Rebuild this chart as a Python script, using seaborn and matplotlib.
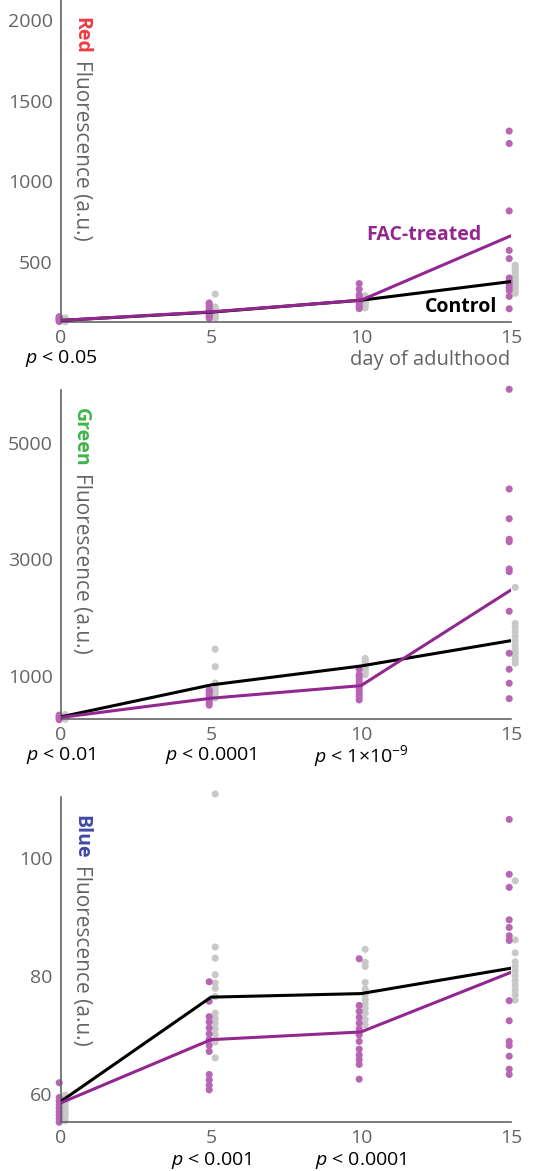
import numpy as np
import pandas as pd
import matplotlib
matplotlib.use("Agg")
import matplotlib.pyplot as plt
import matplotlib.transforms as mtrans
from matplotlib.ticker import FixedLocator
import seaborn as sns

# ---------------- data ----------------
days = [0, 5, 10, 15]

red_ctrl_pts = [[128, 132, 136, 140, 144, 148, 152],
                [150, 160, 170, 180, 190, 200, 210, 220, 300],
                [215, 230, 245, 255, 265, 275, 290],
                [305, 320, 335, 350, 365, 380, 395, 410, 425, 440, 455, 470, 480]]
red_fac_pts = [[130, 135, 140, 145, 150, 155, 160],
               [150, 160, 170, 180, 195, 205, 220, 235, 245],
               [210, 225, 240, 255, 265, 280, 295, 330, 365],
               [209, 286, 323, 340, 360, 380, 400, 520, 571, 816, 1234, 1311]]
red_ctrl_mean = [137, 188, 262, 378]
red_fac_mean = [137, 190, 262, 662]

green_ctrl_pts = [[260, 280, 300, 320, 340],
                  [620, 680, 730, 780, 830, 880, 1160, 1460],
                  [1020, 1060, 1100, 1140, 1180, 1220, 1260, 1300],
                  [1220, 1280, 1340, 1400, 1460, 1520, 1600, 1680, 1760, 1840, 1900, 2520]]
green_fac_pts = [[250, 270, 290, 310, 330],
                 [500, 540, 580, 620, 660, 700, 740, 760],
                 [590, 640, 690, 740, 790, 840, 890, 940, 990, 1020, 1116],
                 [612, 876, 1116, 1390, 2110, 2789, 2835, 3303, 3344, 3697, 4206, 5915]]
green_ctrl_mean = [300, 847, 1172, 1606]
green_fac_mean = [290, 619, 835, 2475]

blue_ctrl_pts = [[55.5, 56.2, 56.8, 57.4, 58.0, 58.6, 59.2, 59.8],
                 [66.1, 68.8, 70.0, 71.0, 72.0, 72.8, 73.7, 76.5, 77.9, 78.8, 80.2, 83.0, 84.9, 110.8],
                 [71.7, 72.6, 73.7, 74.5, 75.3, 76.0, 76.8, 77.8, 78.9, 81.6, 82.3, 84.5],
                 [75.9, 76.8, 77.6, 78.4, 79.2, 80.0, 80.8, 81.6, 82.4, 83.9, 86.1, 96.1]]
blue_fac_pts = [[55.2, 55.8, 56.4, 57.0, 57.6, 58.2, 58.8, 59.4, 61.9],
                [60.7, 61.5, 62.4, 63.3, 67.2, 68.2, 69.2, 70.2, 71.2, 72.2, 73.1, 75.7, 79.0],
                [62.5, 65.0, 65.8, 66.6, 67.6, 68.9, 70.0, 71.0, 72.0, 73.0, 74.0, 75.0, 82.9],
                [63.3, 64.2, 66.4, 68.2, 68.9, 72.4, 75.8, 86.0, 86.8, 88.2, 89.5, 95.0, 97.2, 106.5]]
blue_ctrl_mean = [58.75, 76.4, 77.0, 81.3]
blue_fac_mean = [58.5, 69.2, 70.5, 80.6]

red_yticks = [500, 1000, 1500, 2000]
red_yminor = [250, 750, 1250, 1750]
green_yticks = [1000, 3000, 5000]
green_yminor = [2000, 4000]
blue_yticks = [60, 80, 100]
blue_yminor = [70, 90, 110]

red_pvals = ["$p$ < 0.05", "", "", ""]
green_pvals = ["$p$ < 0.01", "$p$ < 0.0001", r"$p$ < 1×10$^{-9}$", ""]
blue_pvals = ["", "$p$ < 0.001", "$p$ < 0.0001", ""]

channel_names = ["Red", "Green", "Blue"]
ylabel_rest = "Fluorescence (a.u.)"
xlabel_text = "day of adulthood"
group_names = ["Control", "FAC-treated"]

# ---------------- style ----------------
sns.set_style("white")
FONT = "Open Sans"
plt.rcParams["font.family"] = [FONT, "DejaVu Sans"]
plt.rcParams["mathtext.fontset"] = "custom"
plt.rcParams["mathtext.rm"] = FONT
plt.rcParams["mathtext.it"] = FONT + ":italic"
plt.rcParams["mathtext.bf"] = FONT + ":bold"

AX_GREY = "#636467"
DOT_GREY = "#c8c8c8"
DOT_MAG = "#b866b4"
LINE_PURPLE = "#92278f"
CH_COLORS = ["#ef3b42", "#3fb54a", "#4049a6"]
FS_TICK = 14
FS_LABEL = 15
FS_P = 14
FS_BOLD = 14

W, H = 546, 1171
fig = plt.figure(figsize=(W / 100, H / 100), dpi=100)

boxes = [(0, 322), (390, 719), (797, 1122.3)]
ylims = [(127, 2124), (263, 5903), (55.2, 110.3)]
majors = [red_yticks, green_yticks, blue_yticks]
minors = [red_yminor, green_yminor, blue_yminor]
label_tops = [17, 408, 815]
pval_y = [-0.112, -0.112, -0.116]

panels = [
    (red_ctrl_pts, red_fac_pts, red_ctrl_mean, red_fac_mean, red_pvals),
    (green_ctrl_pts, green_fac_pts, green_ctrl_mean, green_fac_mean, green_pvals),
    (blue_ctrl_pts, blue_fac_pts, blue_ctrl_mean, blue_fac_mean, blue_pvals),
]

axes = []
for i, (cpts, fpts, cmean, fmean, pv) in enumerate(panels):
    top, bot = boxes[i]
    ax = fig.add_axes([61 / W, 1 - bot / H, 450 / W, (bot - top) / H])
    axes.append(ax)

    rows = []
    for d, vals in zip(days, cpts):
        for v in vals:
            rows.append((d, v, group_names[0]))
    for d, vals in zip(days, fpts):
        for v in vals:
            rows.append((d, v, group_names[1]))
    pts = pd.DataFrame(rows, columns=["day", "value", "group"])
    offs = {group_names[0]: 0.14, group_names[1]: -0.06}
    pts["xpos"] = pts["day"] + pts["group"].map(offs)

    means = pd.DataFrame({
        "day": days + days,
        "value": list(cmean) + list(fmean),
        "group": [group_names[0]] * 4 + [group_names[1]] * 4,
    })

    sns.scatterplot(data=pts, x="xpos", y="value", hue="group",
                    hue_order=group_names,
                    palette={group_names[0]: DOT_GREY, group_names[1]: DOT_MAG},
                    s=26, edgecolor="none", linewidth=0, legend=False,
                    clip_on=False, zorder=2, ax=ax)
    sns.lineplot(data=means, x="day", y="value", hue="group",
                 hue_order=group_names,
                 palette={group_names[0]: "black", group_names[1]: LINE_PURPLE},
                 linewidth=2.2, legend=False, zorder=3, ax=ax)

    ax.set_xlim(0, 15)
    ax.set_ylim(*ylims[i])
    ax.set_xticks(days)
    ax.set_xticklabels([str(d) for d in days])
    ax.yaxis.set_major_locator(FixedLocator(majors[i]))
    ax.yaxis.set_minor_locator(FixedLocator(minors[i]))
    ax.set_xlabel("")
    ax.set_ylabel("")
    for s in ["top", "right"]:
        ax.spines[s].set_visible(False)
    for s in ["left", "bottom"]:
        ax.spines[s].set_color(AX_GREY)
        ax.spines[s].set_linewidth(1.2)
    ax.tick_params(axis="both", which="major", direction="inout", length=6,
                   width=1, color=AX_GREY, labelcolor=AX_GREY,
                   labelsize=FS_TICK, pad=3)
    ax.tick_params(axis="y", which="minor", direction="inout", length=6,
                   width=1, color=AX_GREY)
    ax.tick_params(axis="x", which="major", pad=2)
    ax.patch.set_alpha(0)

    trans = mtrans.blended_transform_factory(ax.transData, ax.transAxes)
    for d, t in zip(days, pv):
        if t:
            ax.text(d, pval_y[i], t, transform=trans, ha="center", va="center",
                    fontsize=FS_P, color="black")

ax0 = axes[0]
ax0.text(14.03, 665, group_names[1], ha="right", va="center", fontsize=FS_BOLD,
         fontweight="bold", color=LINE_PURPLE)
ax0.text(14.53, 217, group_names[0], ha="right", va="center", fontsize=FS_BOLD,
         fontweight="bold", color="black")
ax0.text(1.0 - 1 / 450, -0.117, xlabel_text, transform=ax0.transAxes,
         ha="right", va="center", fontsize=14.5, color=AX_GREY)

fig.canvas.draw()
r = fig.canvas.get_renderer()
for i, name in enumerate(channel_names):
    t1 = fig.text(81 / W, 1 - label_tops[i] / H, name, rotation=-90,
                  ha="center", va="top", fontsize=FS_BOLD, fontweight="bold",
                  color=CH_COLORS[i])
    bb = t1.get_window_extent(renderer=r)
    y2 = bb.y0 - 6
    fig.text(81 / W, y2 / H, ylabel_rest, rotation=-90, ha="center",
             va="top", fontsize=FS_LABEL, color=AX_GREY)

fig.savefig("out.png", dpi=100)
